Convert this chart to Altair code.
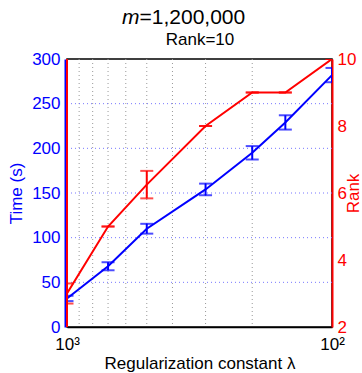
import altair as alt
import pandas as pd

# ---- data ----
lam = [1000, 700, 500, 300, 200, 150, 100]
time_mean = [32, 68, 110, 154, 195, 229, 282]
time_err = [3, 4.5, 5.5, 6.5, 7.5, 8, 8]
rank_mean = [3.0, 5.0, 6.25, 8.0, 9.0, 9.0, 10.0]
rank_err = [0.3, 0, 0.41, 0, 0, 0, 0]

x_grid = [200, 300, 400, 500, 600, 700, 800, 900]
x_ticks = [100, 1000]
left_ticks = [0, 50, 100, 150, 200, 250, 300]
left_grid = [50, 100, 150, 200, 250]
right_ticks = [2, 4, 6, 8, 10]

FONT = "Liberation Sans"
BLUE = "#0000ff"
RED = "#ff0000"

df = pd.DataFrame({
    "lam": lam,
    "t": time_mean,
    "tlo": [m - e for m, e in zip(time_mean, time_err)],
    "thi": [m + e for m, e in zip(time_mean, time_err)],
    "r": rank_mean,
    "rlo": [m - e for m, e in zip(rank_mean, rank_err)],
    "rhi": [m + e for m, e in zip(rank_mean, rank_err)],
})
xg = pd.DataFrame({"lam": x_grid})
yg = pd.DataFrame({"v": left_grid})

xscale = alt.Scale(type="log", domain=[100, 1000], reverse=True)
xaxis = alt.Axis(
    values=x_ticks,
    labelExpr="datum.value == 1000 ? '10³' : '10²'",
    grid=False, ticks=False, domainColor="black", domainWidth=1.5,
    labelFont=FONT, labelFontSize=17, labelColor="black", labelPadding=9,
    labelFlush=False, labelOverlap=False, labelBaseline="top",
    title="Regularization constant λ", titleFont=FONT, titleFontSize=17,
    titleFontWeight="normal", titleColor="black", titleY=41,
    titleBaseline="alphabetic",
)
X = alt.X("lam:Q", scale=xscale, axis=xaxis)

lscale = alt.Scale(domain=[0, 300], nice=False, zero=False)
laxis = alt.Axis(
    values=left_ticks, orient="left", grid=False, ticks=False,
    domainColor=BLUE, domainWidth=2, offset=2,
    labelFont=FONT, labelFontSize=17, labelColor=BLUE, labelPadding=5,
    title="Time (s)", titleFont=FONT, titleFontSize=17, titleFontWeight="normal",
    titleColor=BLUE, titleX=-44, titleY=134, titleAngle=270,
    titleBaseline="alphabetic", titleAlign="center",
)
rscale = alt.Scale(domain=[2, 10], nice=False, zero=False)
raxis = alt.Axis(
    values=right_ticks, orient="right", grid=False, ticks=False,
    domainColor=RED, domainWidth=2,
    labelFont=FONT, labelFontSize=17, labelColor=RED, labelPadding=5,
    title="Rank", titleFont=FONT, titleFontSize=17, titleFontWeight="normal",
    titleColor=RED, titleX=26, titleY=134, titleAngle=270,
    titleBaseline="alphabetic", titleAlign="center",
)


def YL(f):
    return alt.Y(f"{f}:Q", scale=lscale, axis=laxis)


def YR(f):
    return alt.Y(f"{f}:Q", scale=rscale, axis=raxis)


base = alt.Chart(df)

vgrid = alt.Chart(xg).mark_rule(color="#999999", strokeDash=[1, 3], strokeWidth=1).encode(x=X)
hgrid = alt.Chart(yg).mark_rule(color="#7777ff", strokeDash=[1, 3], strokeWidth=1).encode(y=YL("v"))
blue_line = base.mark_line(color=BLUE, strokeWidth=2, clip=True).encode(x=X, y=YL("t"))
blue_bar = base.mark_rule(color=BLUE, strokeWidth=2, clip=True).encode(x=X, y=YL("tlo"), y2="thi:Q")
blue_lo = base.mark_tick(color=BLUE, orient="horizontal", size=13, thickness=2, clip=True).encode(x=X, y=YL("tlo"))
blue_hi = base.mark_tick(color=BLUE, orient="horizontal", size=13, thickness=2, clip=True).encode(x=X, y=YL("thi"))

left = alt.layer(vgrid, hgrid, blue_line, blue_bar, blue_lo, blue_hi)

red_edge = base.mark_rule(color=RED, strokeWidth=2).encode(
    x=alt.datum(1000, scale=xscale, axis=xaxis), y=alt.datum(2, scale=rscale, axis=raxis),
    y2=alt.datum(10))
red_line = base.mark_line(color=RED, strokeWidth=2, clip=True).encode(x=X, y=YR("r"))
red_bar = base.mark_rule(color=RED, strokeWidth=2, clip=True).encode(x=X, y=YR("rlo"), y2="rhi:Q")
red_lo = base.mark_tick(color=RED, orient="horizontal", size=13, thickness=2, clip=True).encode(x=X, y=YR("rlo"))
red_hi = base.mark_tick(color=RED, orient="horizontal", size=13, thickness=2, clip=True).encode(x=X, y=YR("rhi"))

right = alt.layer(red_edge, red_line, red_bar, red_lo, red_hi)

title_m = alt.Chart(pd.DataFrame({"s": ["m"]})).mark_text(
    font=FONT, fontSize=21, fontStyle="italic", align="left", baseline="alphabetic", color="black"
).encode(text="s:N", x=alt.value(55), y=alt.value(-35))
title_rest = alt.Chart(pd.DataFrame({"s": ["=1,200,000"]})).mark_text(
    font=FONT, fontSize=21, align="left", baseline="alphabetic", color="black"
).encode(text="s:N", x=alt.value(72.5), y=alt.value(-35))
subtitle = alt.Chart(pd.DataFrame({"s": ["Rank=10"]})).mark_text(
    font=FONT, fontSize=17, align="center", baseline="alphabetic", color="black"
).encode(text="s:N", x=alt.value(133), y=alt.value(-14))

chart = alt.layer(left, right, title_m, title_rest, subtitle).resolve_scale(
    y="independent"
).properties(
    width=265, height=268,
    autosize=alt.AutoSizeParams(type="none"),
    padding={"left": 67, "top": 59, "right": 30, "bottom": 46},
    background="white",
).configure_view(stroke="black", strokeWidth=1.5)

chart.save("out.html", embed_options={"renderer": "svg", "actions": False})
